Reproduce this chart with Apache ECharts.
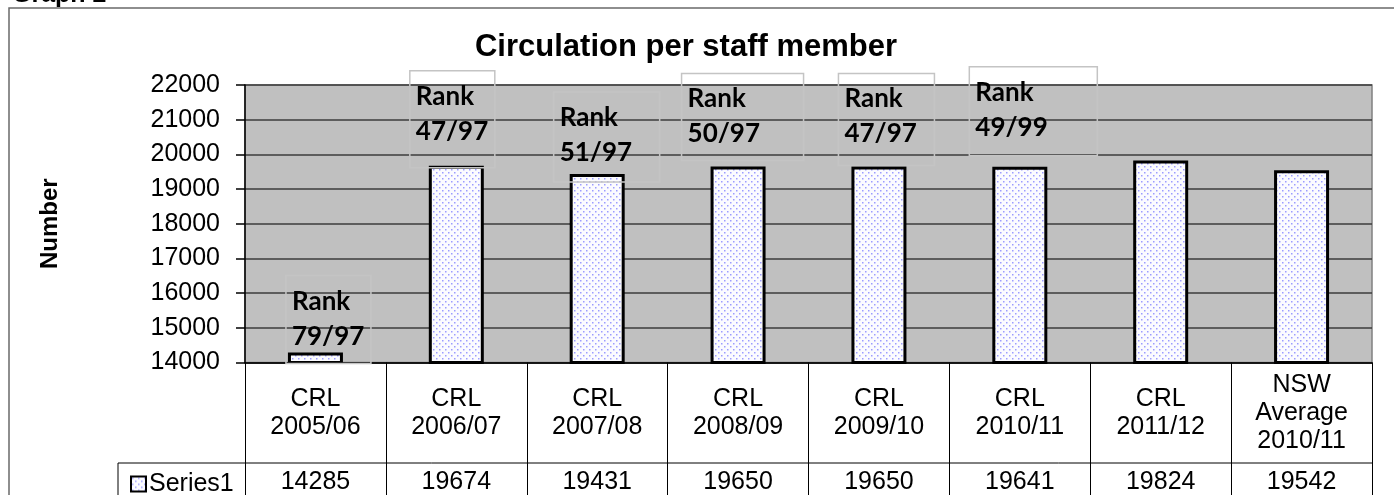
<!DOCTYPE html>
<html>
<head>
<meta charset="utf-8">
<script src="https://cdn.jsdelivr.net/npm/echarts@6/dist/echarts.min.js"></script>
<style>
  html, body { margin: 0; padding: 0; background: #fff; }
  #chart { width: 1394px; height: 495px; }
</style>
</head>
<body>
<div id="chart"></div>
<script>
// data
const categories = ['CRL\n2005/06', 'CRL\n2006/07', 'CRL\n2007/08', 'CRL\n2008/09',
  'CRL\n2009/10', 'CRL\n2010/11', 'CRL\n2011/12', 'NSW\nAverage\n2010/11'];
const circulation = [14285, 19674, 19431, 19650, 19650, 19641, 19824, 19542];
const rankLabels = ['Rank\n79/97', 'Rank\n47/97', 'Rank\n51/97', 'Rank\n50/97',
  'Rank\n47/97', 'Rank\n49/99', '', ''];
const yMin = 14000, yMax = 22000, yStep = 1000;

// where the hand-placed rank boxes sit, relative to each bar's top-left
const rankBoxes = [
  { dx: -2, dy: -77, w: 85, h: 88 },
  { dx: -19, dy: -95, w: 85, h: 97 },
  { dx: -16, dy: -82, w: 106, h: 90 },
  { dx: -29, dy: -93, w: 122, h: 87 },
  { dx: -13, dy: -93, w: 96, h: 92 },
  { dx: -23, dy: -100, w: 128, h: 89 }
];

const G = { left: 245, top: 85, right: 22, bottom: 132 };
const AR = 'Liberation Sans, Arial, sans-serif';

function dots() {
  let c = document.createElement('canvas');
  c.width = 6; c.height = 6;
  let g = c.getContext('2d');
  g.fillStyle = '#fbfbff';
  g.fillRect(0, 0, 6, 6);
  g.fillStyle = '#9c9cff';
  g.fillRect(1, 1, 1.5, 1.5);
  g.fillRect(4, 4, 1.5, 1.5);
  return c;
}
const fill = { image: dots(), repeat: 'repeat' };

let chart = echarts.init(document.getElementById('chart'));

let barData = circulation.map((v, i) => {
  let item = { value: v };
  let b = rankBoxes[i];
  if (b && rankLabels[i]) {
    item.label = {
      show: true,
      formatter: rankLabels[i],
      position: [b.dx, b.dy],
      align: 'left',
      verticalAlign: 'top',
      width: b.w - 12,
      height: b.h - 16,
      padding: [8, 6],
      lineHeight: 35,
      fontSize: 26,
      fontWeight: 'bold',
      fontFamily: 'Lato, sans-serif',
      color: '#000',
      borderColor: '#c4c4c4',
      borderWidth: 1.5
    };
  }
  return item;
});

let option = {
  animation: false,
  grid: {
    left: G.left, top: G.top, right: G.right, bottom: G.bottom,
    show: true, backgroundColor: '#c0c0c0', borderColor: '#808080', borderWidth: 1.5
  },
  legend: {
    data: ['Series1'],
    left: 125, top: 464,
    itemWidth: 15, itemHeight: 15, itemGap: 4,
    icon: 'rect',
    itemStyle: { borderColor: '#000', borderWidth: 2 },
    textStyle: { fontSize: 25, fontFamily: AR, color: '#000', lineHeight: 30, padding: [0, 0, 0, -2] }
  },
  xAxis: [
    {
      type: 'category',
      data: categories,
      axisLine: { lineStyle: { color: '#000', width: 1.5 } },
      axisTick: { show: true, interval: 0, length: 140, lineStyle: { color: '#000', width: 1 } },
      axisLabel: {
        interval: 0, margin: 51, verticalAlign: 'middle', lineHeight: 28,
        fontSize: 25, fontFamily: AR, color: '#000'
      }
    },
    {
      type: 'category',
      position: 'bottom',
      data: circulation.map(String),
      axisLine: { show: false },
      axisTick: { show: false },
      axisLabel: {
        interval: 0, margin: 120, verticalAlign: 'middle',
        fontSize: 25, fontFamily: AR, color: '#000'
      }
    }
  ],
  yAxis: {
    type: 'value',
    min: yMin, max: yMax, interval: yStep,
    name: 'Number',
    nameLocation: 'middle',
    nameRotate: 90,
    nameGap: 183,
    nameTextStyle: { fontSize: 24, fontWeight: 'bold', fontFamily: AR, color: '#000' },
    axisLine: { show: true, lineStyle: { color: '#000', width: 1.5 } },
    axisTick: { show: true, length: 9, lineStyle: { color: '#000', width: 1.5 } },
    axisLabel: { margin: 25, fontSize: 25, fontFamily: AR, color: '#000', formatter: v => String(v) },
    splitLine: { lineStyle: { color: '#3c3c3c', width: 1.5 } }
  },
  series: [{
    name: 'Series1',
    type: 'bar',
    barWidth: 55,
    data: barData,
    itemStyle: { color: fill, borderColor: '#000', borderWidth: 3 }
  }],
  graphic: [
    { type: 'rect', shape: { x: 9, y: 8, width: 1400, height: 520 },
      style: { fill: 'none', stroke: '#6a6a6a', lineWidth: 1.5 }, silent: true },
    { type: 'text', x: 12, y: 8,
      style: { text: 'Graph 2', font: 'bold 25px ' + AR, fill: '#000', verticalAlign: 'bottom' } },
    { type: 'text', x: 686, y: 47,
      style: { text: 'Circulation per staff member', font: 'bold 31px ' + AR, fill: '#000',
        align: 'center', verticalAlign: 'middle' } },
    { type: 'line', shape: { x1: 118, y1: 463, x2: 1372, y2: 463 },
      style: { stroke: '#000', lineWidth: 1 } },
    { type: 'line', shape: { x1: 118, y1: 463, x2: 118, y2: 500 },
      style: { stroke: '#000', lineWidth: 1 } }
  ]
};

chart.setOption(option);
</script>
</body>
</html>
